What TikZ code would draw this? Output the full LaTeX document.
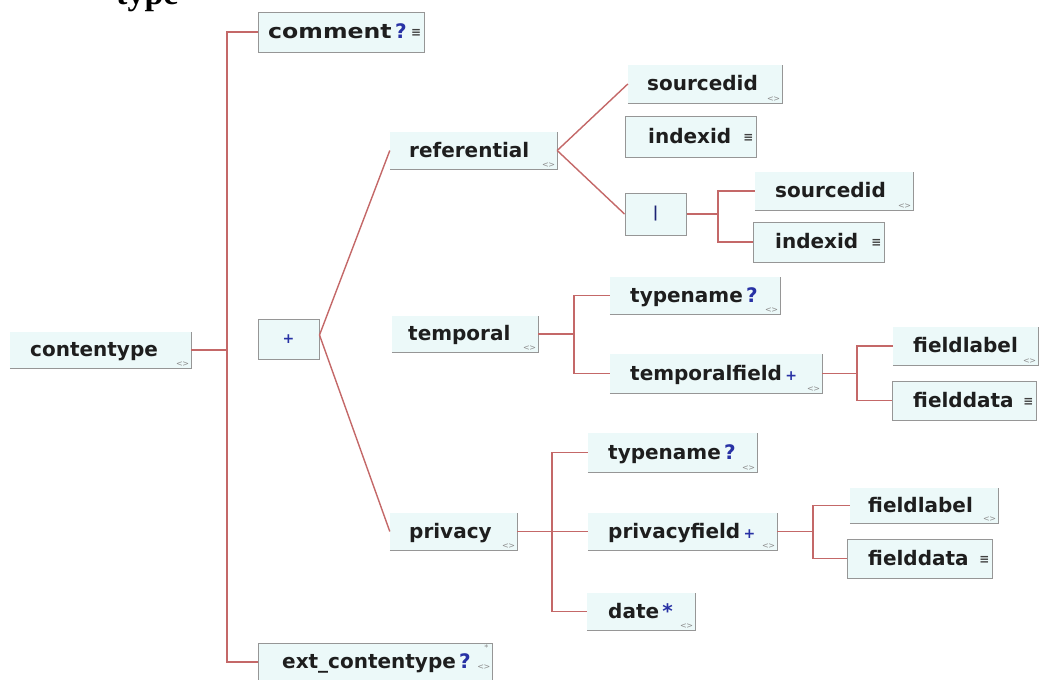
\documentclass[tikz,border=0pt]{standalone}
\usepackage{fontspec}
\setmainfont{DejaVu Sans}
\newfontfamily\titlefont{Liberation Serif}
\usetikzlibrary{fit}
\definecolor{boxfill}{RGB}{236,249,249}
\definecolor{boxline}{RGB}{150,150,150}
\definecolor{connc}{RGB}{196,104,104}
\definecolor{txt}{RGB}{30,30,30}
\definecolor{markc}{RGB}{40,50,165}
\newcommand\mkq{{\color{markc}\,?}}
\newcommand\mkp{{\color{markc}\,\fontsize{14}{14}\selectfont +}}
\newcommand\mks{{\color{markc}\,*}}
\tikzset{
  boxA/.style={rectangle, fill=boxfill, draw=none, inner sep=0pt},
  boxB/.style={rectangle, fill=boxfill, draw=boxline, line width=1pt, inner sep=0pt},
  lbl/.style={anchor=west, inner sep=0pt, text height=15pt, text depth=2pt,
    font=\bfseries\fontsize{20}{20}\selectfont, text=txt},
  iconA/.style={inner sep=0pt, font=\fontsize{8}{8}\selectfont, text=gray!90},
  iconB/.style={inner sep=0pt, font=\bfseries\fontsize{12}{12}\selectfont, text=txt!85},
  connl/.style={draw=connc, line width=1.4pt},
  edgeA/.style={draw=boxline, line width=1pt},
}
% name, left, top, right, bottom, text x, label
\newcommand\elA[7]{%
  \node[boxA, fit={(#2,#3) (#4,#5)}] (#1) {};
  \draw[edgeA] (#1.south west) -- (#1.south east) -- (#1.north east);
  \node[iconA, anchor=south east] (#1-i) at ([shift={(-2pt,2pt)}]#1.south east) {<\kern-0.5pt>};
  \node[lbl] (#1-t) at (#6,{(#3+#5)/2}) {#7};
}
\newcommand\elB[7]{%
  \node[boxB, fit={(#2,#3) (#4,#5)}] (#1) {};
  \node[iconB, anchor=east] (#1-i) at ([shift={(-3pt,-1pt)}]#1.east) {≡};
  \node[lbl] (#1-t) at (#6,{(#3+#5)/2}) {#7};
}
\begin{document}
\begin{tikzpicture}[x=1pt,y=-1pt]
\useasboundingbox[fill=white] (0,0) rectangle (1039,680);

\node[font=\titlefont\bfseries\fontsize{34}{34}\selectfont, anchor=base west, inner sep=0pt] (title) at (116,5) {type};

% level 0/1
\elA{contentype}{10}{332}{191}{368}{30}{contentype}
\elB{comment}{258}{12}{424}{52}{268}{\scalebox{1.18}[1]{comment}\mkq}
\node[boxB, fit={(258,319) (319,359)}] (plus) {};
\node[inner sep=0pt, text=markc, font=\bfseries\fontsize{14}{14}\selectfont] (plus-t) at (plus) {+};
\node[boxB, fit={(258,643) (492,681)}] (ext) {};
\node[lbl] (ext-t) at (282,662) {ext\_contentype\mkq};
\node[iconA, anchor=north east] (ext-i1) at ([shift={(-4pt,-2pt)}]ext.north east) {*};
\node[iconA, anchor=north east] (ext-i2) at ([shift={(-2pt,-22pt)}]ext.north east) {<\kern-0.5pt>};

% referential
\elA{referential}{390}{132}{557}{169}{409}{referential}
\elA{sourcedidA}{628}{65}{782}{103}{647}{sourcedid}
\elB{indexidA}{625}{116}{756}{157}{648}{indexid}
\node[boxB, fit={(625,193) (686,235)}] (choice) {};
\node[inner sep=0pt, text=markc!70!black, font=\bfseries\fontsize{15}{15}\selectfont] (choice-t) at (choice) {|};
\elA{sourcedidB}{755}{172}{913}{210}{775}{sourcedid}
\elB{indexidB}{753}{222}{884}{262}{775}{indexid}

% temporal
\elA{temporal}{392}{316}{538}{352}{408}{temporal}
\elA{typenameA}{610}{277}{780}{314}{630}{typename\mkq}
\elA{temporalfield}{610}{354}{822}{393}{630}{temporalfield\mkp}
\elA{fieldlabelA}{893}{327}{1038}{365}{913}{fieldlabel}
\elB{fielddataA}{892}{381}{1036}{420}{913}{fielddata}

% privacy
\elA{privacy}{390}{513}{517}{550}{409}{privacy}
\elA{typenameB}{588}{433}{757}{472}{608}{typename\mkq}
\elA{privacyfield}{588}{513}{777}{550}{608}{privacyfield\mkp}
\elA{date}{587}{593}{695}{630}{608}{date\mks}
\elA{fieldlabelB}{850}{488}{998}{523}{868}{fieldlabel}
\elB{fielddataB}{847}{539}{992}{578}{868}{fielddata}

% fork points
\coordinate (spine) at (227,350);
\coordinate (fk1) at (718,214);
\coordinate (fk2) at (574,334);
\coordinate (fk3) at (857,373.5);
\coordinate (fk4) at (552,531.5);
\coordinate (fk5) at (813,531.5);

% connectors
\draw[connl] (contentype.east) -- (spine);
\draw[connl] (comment.west) -| (spine) |- (ext.west);
\draw[connl] ([yshift=4pt]plus.east) -- (referential.west);
\draw[connl] ([yshift=4pt]plus.east) -- (privacy.west);
\draw[connl] (referential.east) -- (sourcedidA.west);
\draw[connl] (referential.east) -- (choice.west);
\draw[connl] (choice.east) -- (fk1);
\draw[connl] (sourcedidB.west) -| (fk1) |- (indexidB.west);
\draw[connl] (temporal.east) -- (fk2);
\draw[connl] (typenameA.west) -| (fk2) |- (temporalfield.west);
\draw[connl] (temporalfield.east) -- (fk3);
\draw[connl] (fieldlabelA.west) -| (fk3) |- (fielddataA.west);
\draw[connl] (privacy.east) -- (privacyfield.west);
\draw[connl] (typenameB.west) -| (fk4) |- (date.west);
\draw[connl] (privacyfield.east) -- (fk5);
\draw[connl] (fieldlabelB.west) -| (fk5) |- (fielddataB.west);
\end{tikzpicture}
\end{document}
